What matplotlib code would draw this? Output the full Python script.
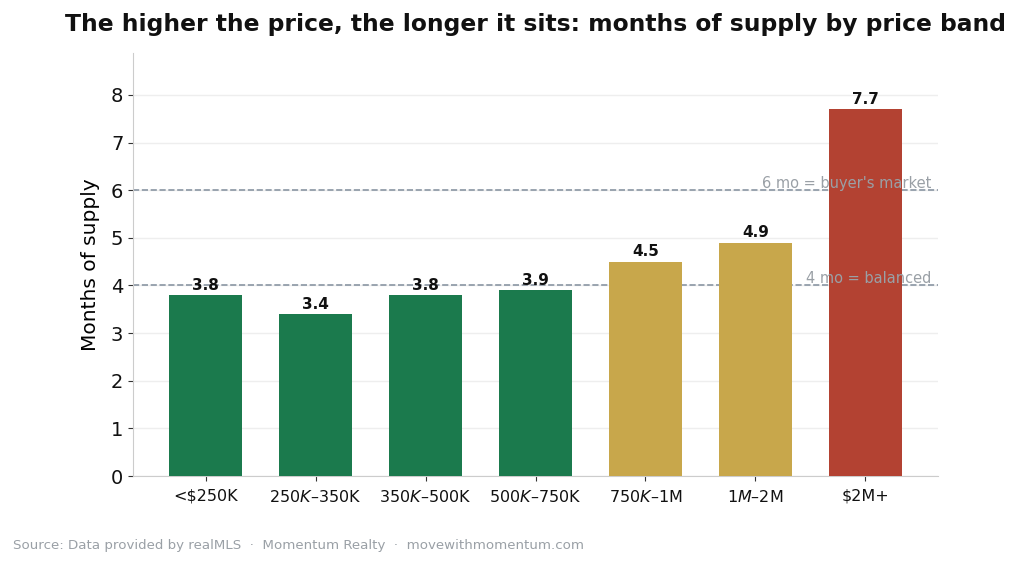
import matplotlib
matplotlib.use("Agg")
import matplotlib.pyplot as plt

bands = ["<$250K", "$250K–$350K", "$350K–$500K", "$500K–$750K", "$750K–$1M", "$1M–$2M", "$2M+"]
months = [3.8, 3.4, 3.8, 3.9, 4.5, 4.9, 7.7]
colors = ["#1b7a4d", "#1b7a4d", "#1b7a4d", "#1b7a4d", "#c8a74b", "#c8a74b", "#b34232"]
ref_levels = [6, 4]
ref_labels = ["6 mo = buyer's market", "4 mo = balanced"]

fig = plt.figure(figsize=(10.19, 5.65), dpi=100)
ax = fig.add_axes([133/1019, 1-476/565, (938-133)/1019, (476-53)/565])

x = range(len(bands))
bars = ax.bar(x, months, width=0.665, color=colors, zorder=3)
ax.set_xlim(-0.66, 6.66)
ax.set_ylim(0, 8.88)
ax.set_xticks(list(x))
ax.set_xticklabels(bands, fontsize=11.5)
ax.tick_params(axis='y', labelsize=14, colors="#111111")
ax.tick_params(axis='x', colors="#111111", pad=5.5)
ax.tick_params(axis='both', color="#333333")
ax.set_ylabel("Months of supply", fontsize=14.5, labelpad=8)

for b, v in zip(bars, months):
    ax.text(b.get_x() + b.get_width()/2, v + 0.05, f"{v:.1f}", ha="center", va="bottom",
            fontsize=11, fontweight="bold", color="#111111", zorder=4)

for lvl, lab in zip(ref_levels, ref_labels):
    ax.axhline(lvl, color="#8a96a3", linestyle="--", linewidth=1.2, zorder=2)
    ax.text(0.992, lvl - 0.01, lab, transform=ax.get_yaxis_transform(), ha="right", va="bottom",
            fontsize=10.5, color="#9aa0a6", zorder=4)

ax.yaxis.grid(True, color="#eeeeee", linewidth=1, zorder=0)
ax.set_axisbelow(True)
for s in ["top", "right"]:
    ax.spines[s].set_visible(False)
for s in ["left", "bottom"]:
    ax.spines[s].set_color("#cccccc")

ax.set_title("The higher the price, the longer it sits: months of supply by price band",
             fontsize=16.8, fontweight="bold", color="#111111", pad=16)

fig.text(13/1019, 1-545/565, "Source: Data provided by realMLS  ·  Momentum Realty  ·  movewithmomentum.com",
         fontsize=9.65, color="#9aa0a6", ha="left", va="center")

fig.savefig("out.png", dpi=100)
